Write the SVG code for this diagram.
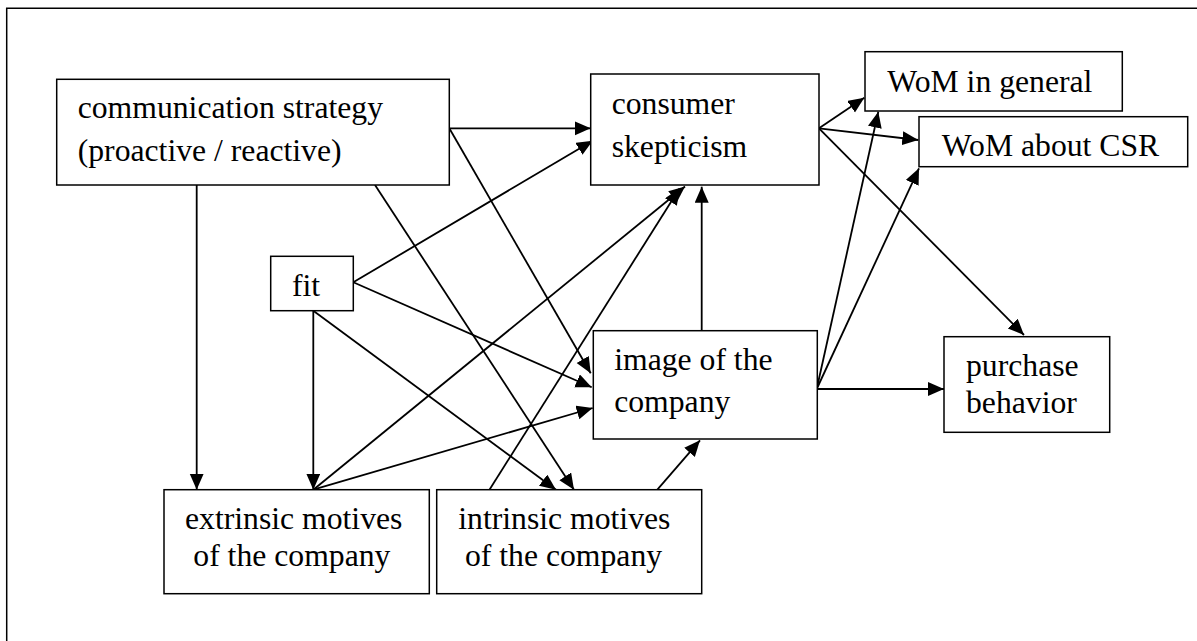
<svg xmlns="http://www.w3.org/2000/svg" width="1197" height="641" viewBox="0 0 1197 641">
<style>
.box{fill:#fff;stroke:#000;stroke-width:1.5}
.t{font-family:'Liberation Serif','Tinos','Times New Roman','DejaVu Serif',serif;font-size:31.7px;fill:#000}
.c{stroke:#000;stroke-width:1.8;fill:none}
.a{marker-end:url(#ah)}
</style>
<defs>
<marker id="ah" markerUnits="userSpaceOnUse" markerWidth="17" markerHeight="15" refX="16" refY="7" orient="auto">
<path d="M0,0 L16,7 L0,14 z" fill="#000"/>
</marker>
</defs>
<rect x="0" y="0" width="1197" height="641" fill="#fff"/>
<path d="M6.7,641 V8.3 H1197" fill="none" stroke="#000" stroke-width="1.5"/>
<g id="connectors">
<line class="c a" x1="449.3" y1="128.3" x2="590.7" y2="128.3"/>
<line class="c a" x1="449.3" y1="128.3" x2="590.7" y2="373.3"/>
<line class="c a" x1="375" y1="185" x2="574" y2="489.7"/>
<line class="c a" x1="196.7" y1="185" x2="196.7" y2="489.7"/>
<line class="c a" x1="353.3" y1="282.3" x2="592.7" y2="140.7"/>
<line class="c a" x1="353.3" y1="282.3" x2="591.7" y2="387.3"/>
<line class="c a" x1="313.3" y1="310.7" x2="313.3" y2="489.7"/>
<line class="c a" x1="313.3" y1="310.7" x2="556" y2="489.7"/>
<line class="c a" x1="313.3" y1="489.7" x2="685" y2="186.5"/>
<line class="c a" x1="313.3" y1="489.7" x2="592.7" y2="408"/>
<line class="c a" x1="489.3" y1="490" x2="679.5" y2="188.5"/>
<line class="c a" x1="656.7" y1="490.3" x2="700" y2="440.3"/>
<line class="c a" x1="701.7" y1="330.7" x2="701.7" y2="186.7"/>
<line class="c a" x1="819" y1="128.3" x2="864.3" y2="97.7"/>
<line class="c a" x1="819" y1="128.3" x2="918.3" y2="140"/>
<line class="c a" x1="819" y1="128.3" x2="1024" y2="335"/>
<line class="c a" x1="816.7" y1="389" x2="878.3" y2="111.7"/>
<line class="c a" x1="816.7" y1="389" x2="919" y2="168.3"/>
<line class="c a" x1="816.7" y1="389" x2="944" y2="389"/>
</g>
<g id="comm">
<rect class="box" x="56.7" y="79.3" width="392.6" height="105.7"/>
<text class="t" x="77.7" y="118.3">communication strategy</text>
<text class="t" x="77.7" y="161">(proactive / reactive)</text>
</g>
<g id="consumer">
<rect class="box" x="590.7" y="74" width="228.3" height="111"/>
<text class="t" x="611.7" y="114.3">consumer</text>
<text class="t" x="611.7" y="156.7">skepticism</text>
</g>
<g id="womGeneral">
<rect class="box" x="865" y="51.7" width="257.3" height="59.3"/>
<text class="t" x="887.3" y="91.7">WoM in general</text>
</g>
<g id="womCSR">
<rect class="box" x="919" y="116.7" width="268.7" height="50"/>
<text class="t" x="941.7" y="156">WoM about CSR</text>
</g>
<g id="fit">
<rect class="box" x="270.7" y="256.3" width="82.6" height="54.4"/>
<text class="t" x="292" y="295.7">fit</text>
</g>
<g id="image">
<rect class="box" x="593.3" y="330.7" width="224" height="108.3"/>
<text class="t" x="614.2" y="370">image of the</text>
<text class="t" x="614.2" y="411.7">company</text>
</g>
<g id="purchase">
<rect class="box" x="944" y="336.7" width="165.7" height="95.6"/>
<text class="t" x="966" y="375.7">purchase</text>
<text class="t" x="966" y="413">behavior</text>
</g>
<g id="extrinsic">
<rect class="box" x="164" y="489.7" width="265.3" height="104"/>
<text class="t" x="185" y="529">extrinsic motives</text>
<text class="t" x="193.3" y="566.3">of the company</text>
</g>
<g id="intrinsic">
<rect class="box" x="436.7" y="489.7" width="265" height="104"/>
<text class="t" x="458.3" y="529">intrinsic motives</text>
<text class="t" x="465" y="566.3">of the company</text>
</g>
</svg>
